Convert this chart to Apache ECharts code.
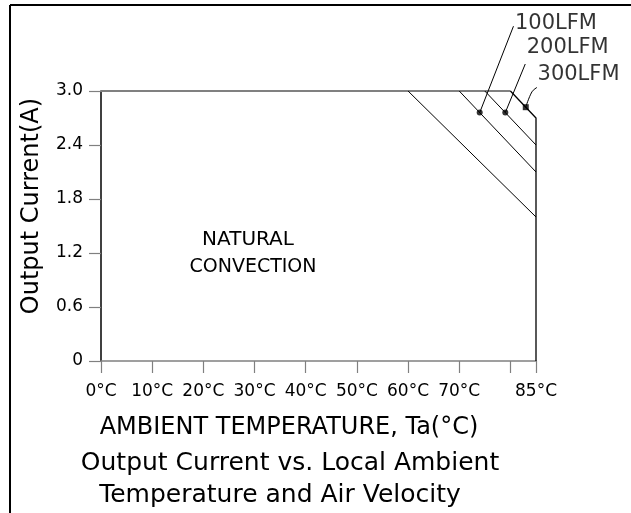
<!DOCTYPE html>
<html><head><meta charset="utf-8">
<script src="https://cdn.jsdelivr.net/npm/echarts@6/dist/echarts.min.js"></script>
<style>html,body{margin:0;padding:0;background:#fff}#c{width:631px;height:513px}</style>
</head><body><div id="c"></div>
<script>
// ---- data ----
const xTicks = [0, 10, 20, 30, 40, 50, 60, 70, 80, 85];
const xTickLabels = ['0°C', '10°C', '20°C', '30°C', '40°C', '50°C', '60°C', '70°C', '', '85°C'];
const yTicks = [0, 0.6, 1.2, 1.8, 2.4, 3.0];
const yTickLabels = ['0', '0.6', '1.2', '1.8', '2.4', '3.0'];
const ratedLine = [[0, 3.0], [80, 3.0]];
const naturalConvection = [[60, 3.0], [85, 1.6]];
const lfm100 = [[70, 3.0], [85, 2.1]];
const lfm200 = [[75, 3.0], [85, 2.4]];
const lfm300 = [[80, 3.0], [85, 2.7], [85, 0]];
const curveLabels = ['100LFM', '200LFM', '300LFM'];
const leader100 = [[74, 2.76], [80.6, 3.72]];
const leader200 = [[79, 2.76], [82.9, 3.30]];
const leader300 = [[83, 2.82], [84.2, 2.99], [85.2, 3.04]];
const labelAnchors = [[80.6, 3.72], [82.9, 3.30], [85.2, 3.04]];
const dotMarks = [[74, 2.76], [79, 2.76]];
const squareMarks = [[83, 2.82]];
const regionText = ['NATURAL', 'CONVECTION'];
const xName = 'AMBIENT TEMPERATURE, Ta(°C)';
const yName = 'Output Current(A)';
const captionLines = ['Output Current vs. Local Ambient', 'Temperature and Air Velocity'];

const FONT = 'DejaVu Sans';
const labelOffsets = [[0, -3], [0, -16], [-1, -13]];
const chart = echarts.init(document.getElementById('c'));

function lineSeries(data, color, width, smooth) {
  return { type: 'line', data: data, symbol: 'none', clip: false, silent: true, smooth: smooth || 0,
    lineStyle: { color: color, width: width }, z: 3 };
}

const option = {
  animation: false,
  backgroundColor: '#fff',
  grid: { left: 101, right: 95, top: 91, bottom: 152, containLabel: false },
  xAxis: {
    type: 'value', min: 0, max: 85, interval: 10,
    axisLine: { lineStyle: { color: '#808080', width: 1.5 } },
    axisTick: { show: true, inside: false, length: 12, lineStyle: { color: '#808080', width: 1.2 } },
    splitLine: { show: false },
    axisLabel: { margin: 22, color: '#000', fontFamily: FONT, fontSize: 17,
      formatter: function (v) { const i = xTicks.indexOf(v); return i >= 0 ? xTickLabels[i] : ''; } }
  },
  yAxis: {
    type: 'value', min: 0, max: 3, interval: 0.6,
    axisLine: { lineStyle: { color: '#000', width: 1.5 } },
    axisTick: { show: true, inside: false, length: 12, lineStyle: { color: '#808080', width: 1.2 } },
    splitLine: { show: false },
    axisLabel: { margin: 18, color: '#000', fontFamily: FONT, fontSize: 17,
      formatter: function (v) { for (let i = 0; i < yTicks.length; i++) { if (Math.abs(yTicks[i] - v) < 1e-6) return yTickLabels[i]; } return ''; } }
  },
  series: [
    lineSeries(ratedLine, '#808080', 2),
    lineSeries(naturalConvection, '#000', 1),
    lineSeries(lfm100, '#000', 1),
    lineSeries(lfm200, '#000', 1),
    lineSeries(lfm300, '#000', 1.3),
    lineSeries(leader100, '#000', 1),
    lineSeries(leader200, '#000', 1),
    lineSeries(leader300, '#000', 1, 0.4),
    { type: 'scatter', data: dotMarks, symbol: 'circle', symbolSize: 6, itemStyle: { color: '#000' }, silent: true, z: 5 },
    { type: 'scatter', data: squareMarks, symbol: 'rect', symbolSize: 6, itemStyle: { color: '#000' }, silent: true, z: 5 },
    { type: 'scatter', data: labelAnchors, symbolSize: 1, itemStyle: { color: 'rgba(0,0,0,0)' }, silent: true, z: 6, clip: false,
      label: { show: true, position: 'right', distance: 1, color: '#000', fontFamily: FONT, fontSize: 21,
        formatter: function (p) { return curveLabels[p.dataIndex]; } },
      labelLayout: function (p) { const o = labelOffsets[p.dataIndex]; return { dx: o[0], dy: o[1] }; } }
  ],
  graphic: [
    { type: 'line', shape: { x1: 10, y1: 5, x2: 631, y2: 5 }, style: { stroke: '#000', lineWidth: 2 } },
    { type: 'line', shape: { x1: 10, y1: 5, x2: 10, y2: 513 }, style: { stroke: '#000', lineWidth: 2 } },
    { type: 'text', x: 248, y: 240, style: { text: regionText[0], textAlign: 'center', textVerticalAlign: 'middle', font: '20px "' + FONT + '"', fill: '#000' } },
    { type: 'text', x: 253, y: 267, style: { text: regionText[1], textAlign: 'center', textVerticalAlign: 'middle', font: '19px "' + FONT + '"', fill: '#000' } },
    { type: 'text', x: 32, y: 206, rotation: Math.PI / 2, style: { text: yName, textAlign: 'center', textVerticalAlign: 'middle', font: '24px "' + FONT + '"', fill: '#000' } },
    { type: 'text', x: 289, y: 428, style: { text: xName, textAlign: 'center', textVerticalAlign: 'middle', font: '24px "' + FONT + '"', fill: '#000' } },
    { type: 'text', x: 290, y: 463, style: { text: captionLines[0], textAlign: 'center', textVerticalAlign: 'middle', font: '25px "' + FONT + '"', fill: '#000' } },
    { type: 'text', x: 280, y: 495, style: { text: captionLines[1], textAlign: 'center', textVerticalAlign: 'middle', font: '25px "' + FONT + '"', fill: '#000' } }
  ]
};
chart.setOption(option);
</script>
</body></html>
